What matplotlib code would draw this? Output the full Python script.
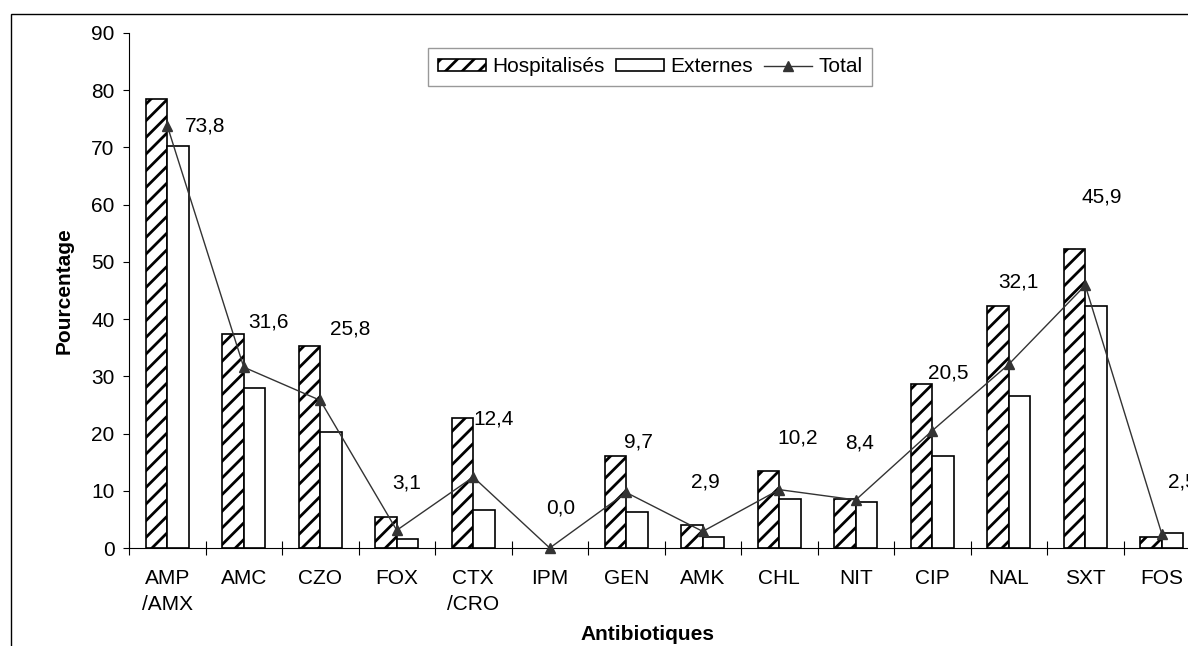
import matplotlib

matplotlib.use("Agg")
import matplotlib.pyplot as plt
from matplotlib.patches import Rectangle
import numpy as np

plt.rcParams["font.family"] = ["Liberation Sans", "DejaVu Sans"]
plt.rcParams["hatch.linewidth"] = 2.0
plt.rcParams["hatch.color"] = "#1a1a1a"

categories = ["AMP\n/AMX", "AMC", "CZO", "FOX", "CTX\n/CRO", "IPM", "GEN",
              "AMK", "CHL", "NIT", "CIP", "NAL", "SXT", "FOS"]
hospitalises = [78.5, 37.4, 35.3, 5.4, 22.7, 0.0, 16.0, 4.1, 13.5, 8.6, 28.6, 42.3, 52.3, 2.0]
externes = [70.3, 28.0, 20.2, 1.5, 6.6, 0.0, 6.3, 2.0, 8.6, 8.1, 16.0, 26.5, 42.3, 2.6]
total = [73.8, 31.6, 25.8, 3.1, 12.4, 0.0, 9.7, 2.9, 10.2, 8.4, 20.5, 32.1, 45.9, 2.5]

# label offsets (pixels) from each Total marker, as placed in the original
label_dx = [38, 25, 30, 10, 20, 11, 12, 3, 18, 4, 16, 10, 16, 21]
label_dy = [0, 45, 71, 47, 58, 40, 50, 49, 52, 57, 58, 82, 88, 52]

FS = 15
W, H = 1188, 646
fig = plt.figure(figsize=(W / 100, H / 100), dpi=100)
ax = fig.add_axes([129 / W, (H - 548) / H, 14 * 76.5 / W, 515 / H])

n = len(categories)
centers = np.arange(n) + 0.5
bw = 0.28

# no outline for empty (0 %) bars, as in Excel
lw_h = [1.2 if v > 0 else 0 for v in hospitalises]
lw_e = [1.2 if v > 0 else 0 for v in externes]

b1 = ax.bar(centers - bw / 2, hospitalises, bw, facecolor="white", edgecolor="black",
            hatch="//", linewidth=lw_h, label="Hospitalisés", zorder=2)
b2 = ax.bar(centers + bw / 2, externes, bw, facecolor="white", edgecolor="black",
            linewidth=lw_e, label="Externes", zorder=2)
ln, = ax.plot(centers, total, color="#333333", linewidth=1.0, marker="^",
              markersize=7.5, markerfacecolor="#333333", markeredgecolor="#333333",
              label="Total", zorder=3, clip_on=False)

for x, v, dx, dy in zip(centers, total, label_dx, label_dy):
    ax.annotate(f"{v:.1f}".replace(".", ","), (x, v), xytext=(dx, dy),
                textcoords="offset pixels", ha="center", va="center",
                fontsize=FS, color="black", annotation_clip=False)

ax.set_xlim(0, n)
ax.set_ylim(0, 90)
ax.set_yticks(np.arange(0, 91, 10))
ax.tick_params(axis="y", direction="out", length=4.3, width=0.8, pad=6,
               labelsize=FS)
ax.set_xticks(np.arange(0, n + 1))
ax.set_xticklabels([])
ax.tick_params(axis="x", which="major", direction="inout", length=10, width=0.8)
ax.set_xticks(centers, minor=True)
ax.set_xticklabels(categories, minor=True, linespacing=1.45)
ax.tick_params(axis="x", which="minor", length=0, pad=15, labelsize=FS)

for side in ["top", "right"]:
    ax.spines[side].set_visible(False)
for side in ["left", "bottom"]:
    ax.spines[side].set_linewidth(0.8)

fig.text(64 / W, 1 - 291 / H, "Pourcentage", rotation=90, ha="center",
         va="center", fontsize=FS, fontweight="bold")
fig.text(647 / W, 1 - 634 / H, "Antibiotiques", ha="center", va="center",
         fontsize=FS, fontweight="bold")

leg = ax.legend([b1[0], b2[0], ln], ["Hospitalisés", "Externes", "Total"],
                loc="center", bbox_to_anchor=(650 / W, 1 - 67 / H),
                bbox_transform=fig.transFigure, ncol=3, frameon=True,
                fancybox=False, fontsize=FS, handlelength=2.3,
                handleheight=0.5, handletextpad=0.3, columnspacing=0.55,
                borderpad=0.45, borderaxespad=0)
leg.get_frame().set_edgecolor("#808080")
leg.get_frame().set_linewidth(1.0)

# outer chart frame
fig.patches.append(Rectangle((11 / W, -0.1), 2, 1 - 14 / H + 0.1, fill=False,
                             edgecolor="black", linewidth=1.0,
                             transform=fig.transFigure, figure=fig))

fig.savefig("out.png", dpi=100)
